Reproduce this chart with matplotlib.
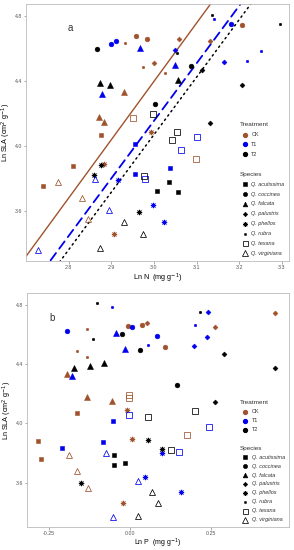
import matplotlib
matplotlib.use('Agg')
import matplotlib.pyplot as plt

plt.rcParams['font.family'] = ['Liberation Sans', 'DejaVu Sans']

species = ['Q. acutissima', 'Q. coccinea', 'Q. falcata', 'Q. palustris',
           'Q. phellos', 'Q. rubra', 'Q. texana', 'Q. virginiana']
treatments = ['CK', 'T1', 'T2']

# panel a: Ln N, per species -> [CK, T1, T2]
lnN_a = {
    'Q. acutissima': [[2.876, 2.810, 2.740], [2.955, 2.955, 3.038], [3.007, 3.036, 3.057]],
    'Q. coccinea':   [[2.957, 2.983, 3.207], [2.900, 2.912, 3.181], [2.867, 3.002, 3.088]],
    'Q. falcata':    [[2.931, 2.871, 2.883], [2.967, 2.879, 3.050], [2.874, 2.898, 3.057]],
    'Q. palustris':  [[3.060, 3.131, 3.000], [3.164, 3.050], [3.114, 3.207, 3.131]],
    'Q. phellos':    [[2.883, 2.907, 2.993], [2.917, 2.998, 3.024], [2.860, 2.964, 2.876]],
    'Q. rubra':      [[2.933, 2.974, 3.026], [3.140, 3.252, 3.219], [3.136, 3.295, 3.055]],
    'Q. texana':     [[2.952, 3.098], [2.979, 3.102, 3.064], [2.998, 3.055, 3.043, 2.976]],
    'Q. virginiana': [[2.831, 2.845, 2.774], [2.862, 2.895, 2.729], [2.931, 2.974, 2.874]],
}
lnSLA_a = {
    'Q. acutissima': [[4.068, 3.877, 3.754], [4.012, 3.828, 3.865], [3.723, 3.778, 3.717]],
    'Q. coccinea':   [[4.677, 4.658, 4.745], [4.628, 4.646, 4.751], [4.597, 4.258, 4.492]],
    'Q. falcata':    [[4.332, 4.178, 4.148], [4.603, 4.320, 4.498], [4.388, 4.375, 4.406]],
    'Q. palustris':  [[4.658, 4.646, 4.511], [4.517, 4.591], [4.468, 4.375, 4.142]],
    'Q. phellos':    [[3.889, 3.458, 4.086], [3.791, 3.637, 3.532], [3.822, 3.594, 3.883]],
    'Q. rubra':      [[4.634, 4.486, 4.449], [4.782, 4.585, 4.523], [4.806, 4.751, 4.572]],
    'Q. texana':     [[4.172, 3.920], [3.797, 4.055, 3.975], [4.197, 4.086, 4.037, 3.815]],
    'Q. virginiana': [[3.680, 3.551, 3.778], [3.797, 3.606, 3.360], [3.532, 3.458, 3.372]],
}

# panel b: Ln P, per species -> [CK, T1, T2]
lnP_b = {
    'Q. acutissima': [[-0.164, -0.284, -0.275], [-0.052, -0.083, -0.210], [-0.049, -0.015, -0.049]],
    'Q. coccinea':   [[-0.006, 0.037, 0.108], [-0.194, 0.006, 0.083], [-0.025, 0.031, 0.145]],
    'Q. falcata':    [[-0.194, -0.133, -0.056], [-0.043, -0.015, -0.179], [-0.173, -0.123, -0.080]],
    'Q. palustris':  [[0.052, 0.262, 0.448], [0.198, 0.238, 0.241], [0.290, 0.448, 0.262]],
    'Q. phellos':    [[-0.009, 0.006, -0.022], [0.099, 0.046, 0.157], [0.056, -0.151, 0.099]],
    'Q. rubra':      [[-0.133, -0.164, -0.133], [-0.056, 0.056, 0.201], [-0.102, -0.114, 0.216]],
    'Q. texana':     [[-0.003, -0.003, 0.176], [-0.003, 0.244, 0.151], [0.056, 0.201, 0.127]],
    'Q. virginiana': [[-0.188, -0.164, -0.130], [-0.074, 0.025, -0.052], [0.068, 0.086, 0.025]],
}
lnSLA_b = {
    'Q. acutissima': [[4.072, 3.883, 3.761], [4.018, 3.876, 3.835], [3.788, 3.734, 3.721]],
    'Q. coccinea':   [[4.658, 4.665, 4.517], [4.625, 4.652, 4.591], [4.604, 4.496, 4.260]],
    'Q. falcata':    [[4.335, 4.179, 4.152], [4.611, 4.503, 4.321], [4.375, 4.389, 4.409]],
    'Q. palustris':  [[4.679, 4.652, 4.746], [4.523, 4.584, 4.753], [4.469, 4.375, 4.146]],
    'Q. phellos':    [[4.092, 3.896, 3.464], [3.802, 3.640, 3.539], [3.889, 3.599, 3.829]],
    'Q. rubra':      [[4.638, 4.490, 4.449], [4.787, 4.530, 4.665], [4.813, 4.571, 4.753]],
    'Q. texana':     [[4.193, 4.173, 3.923], [4.058, 3.977, 3.808], [4.045, 4.085, 3.822]],
    'Q. virginiana': [[3.788, 3.680, 3.566], [3.802, 3.613, 3.370], [3.539, 3.464, 3.377]],
}

# fitted lines in panel a (intercept, slope) for CK, T1, T2
fit_a = {'CK': (-6.370, 3.589), 'T1': (-6.466, 3.54), 'T2': (-6.551, 3.54)}

colors = {'CK': '#A0522D', 'T1': '#0000EE', 'T2': 'black'}
line_styles = {'CK': dict(ls='-', lw=1.0),
               'T1': dict(ls=(0, (5, 3)), lw=1.3),
               'T2': dict(ls=(0, (1, 2.5)), lw=1.1)}

# marker, size, filled, edge width
markers = {
    'Q. acutissima': ('s', 3.2, True, 0.4),
    'Q. coccinea':   ('o', 3.4, True, 0.4),
    'Q. falcata':    ('^', 3.8, True, 0.4),
    'Q. palustris':  ('D', 2.5, True, 0.4),
    'Q. phellos':    ((8, 2, 0), 3.8, True, 0.6),
    'Q. rubra':      ('o', 1.9, True, 0.3),
    'Q. texana':     ('s', 4.0, False, 0.55),
    'Q. virginiana': ('^', 4.6, False, 0.55),
}


def draw_points(ax, xs, ys):
    for sp in species:
        m, ms, filled, mew = markers[sp]
        for i, t in enumerate(treatments):
            c = colors[t]
            ax.plot(xs[sp][i], ys[sp][i], ls='none', marker=m, ms=ms,
                    mfc=c if filled else 'none', mec=c, mew=mew, zorder=3)


def draw_legend(ax):
    fs = 4
    mx, tx = 0.831, 0.857
    ax.text(0.812, 0.530, 'Treatment', transform=ax.transAxes, fontsize=4.6,
            va='center', ha='left', color='#333333')
    for i, t in enumerate(treatments):
        y = 0.492 - i * 0.038
        ax.plot(mx, y, marker='o', ms=2.8, color=colors[t], transform=ax.transAxes,
                clip_on=False)
        ax.text(tx, y, t, transform=ax.transAxes, fontsize=fs, va='center',
                color='#333333')
    ax.text(0.812, 0.336, 'Species', transform=ax.transAxes, fontsize=4.6,
            va='center', ha='left', color='#333333')
    for i, sp in enumerate(species):
        y = 0.299 - i * 0.0384
        m, ms, filled, mew = markers[sp]
        ax.plot(mx, y, marker=m, ms=ms * 0.9, mfc='black' if filled else 'none',
                mec='black', mew=mew, transform=ax.transAxes, clip_on=False)
        ax.text(tx, y, sp, transform=ax.transAxes, fontsize=fs, va='center',
                style='italic', color='#333333')


def style_axes(ax):
    for s in ax.spines.values():
        s.set_color('#BBBBBB')
        s.set_linewidth(0.6)
    ax.tick_params(axis='both', length=1.8, width=0.5, color='#888888',
                   labelsize=3.8, labelcolor='#555555', pad=1.0)
    ax.set_yticks([3.6, 4.0, 4.4, 4.8])
    ax.set_yticklabels(['3.6', '4.0', '4.4', '4.8'])
    ax.set_ylabel('Ln SLA (cm$^{2}$ g$^{-1}$)', fontsize=5.2, labelpad=1.5)


fig = plt.figure(figsize=(2.94, 5.5), dpi=100)

# 面板 a
ax1 = fig.add_axes([26 / 294, 1 - 261 / 550, 263 / 294, 257 / 550])
draw_points(ax1, lnN_a, lnSLA_a)
for t in treatments:
    b0, b1 = fit_a[t]
    xx = [2.6, 3.4]
    ax1.plot(xx, [b0 + b1 * x for x in xx], color=colors[t], zorder=2,
             dash_capstyle='round', **line_styles[t])
ax1.set_xlim(2.7, 3.317)
ax1.set_ylim(3.292, 4.874)
ax1.set_xticks([2.8, 2.9, 3.0, 3.1, 3.2, 3.3])
ax1.set_xticklabels(['2.8', '2.9', '3.0', '3.1', '3.2', '3.3'])
style_axes(ax1)
ax1.set_xlabel('Ln N  (mg g$^{-1}$)', fontsize=5.2, labelpad=1.0)
ax1.text(0.16, 0.895, 'a', transform=ax1.transAxes, fontsize=7, color='#333333')
draw_legend(ax1)

# 面板 b
ax2 = fig.add_axes([27 / 294, 1 - 527 / 550, 262 / 294, 234 / 550])
draw_points(ax2, lnP_b, lnSLA_b)
ax2.set_xlim(-0.318, 0.49)
ax2.set_ylim(3.30, 4.88)
ax2.set_xticks([-0.25, 0.0, 0.25])
ax2.set_xticklabels(['-0.25', '0.00', '0.25'])
style_axes(ax2)
ax2.set_xlabel('Ln P  (mg g$^{-1}$)', fontsize=5.0, labelpad=0.5)
ax2.text(0.085, 0.88, 'b', transform=ax2.transAxes, fontsize=7, color='#333333')
draw_legend(ax2)

fig.savefig('out.png', dpi=100)
